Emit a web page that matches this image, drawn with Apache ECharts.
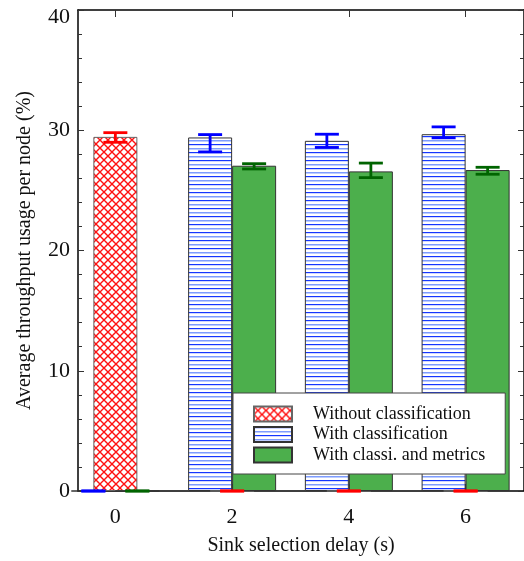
<!DOCTYPE html>
<html>
<head>
<meta charset="utf-8">
<script src="https://cdn.jsdelivr.net/npm/echarts@6/dist/echarts.min.js"></script>
<style>
html,body{margin:0;padding:0;background:#fff;}
#chart{width:524px;height:561px;}
</style>
</head>
<body>
<div id="chart"></div>
<script>
// ---- data ----
const delays = [0, 2, 4, 6];
const withoutClass = [29.45, 0, 0, 0];
const withoutLow   = [29.0, 0, 0, 0];
const withoutHigh  = [29.8, 0, 0, 0];
const withClass    = [0, 29.4, 29.12, 29.67];
const withLow      = [0, 28.2, 28.57, 29.37];
const withHigh     = [0, 29.64, 29.67, 30.28];
const withMetrics  = [0, 27.05, 26.58, 26.69];
const metricsLow   = [0, 26.78, 26.06, 26.34];
const metricsHigh  = [0, 27.22, 27.27, 26.92];
const seriesNames = ['Without classification', 'With classification', 'With classi. and metrics'];
const yTicks = [0, 10, 20, 30, 40];

// ---- patterns ----
function crossHatch() {
  const c = document.createElement('canvas');
  c.width = 8; c.height = 8;
  const g = c.getContext('2d');
  g.fillStyle = '#fff'; g.fillRect(0, 0, 8, 8);
  g.strokeStyle = '#ff1010'; g.lineWidth = 1.4;
  g.beginPath();
  g.moveTo(-1, -1); g.lineTo(9, 9);
  g.moveTo(9, -1); g.lineTo(-1, 9);
  g.stroke();
  return c;
}
function hStripes() {
  const c = document.createElement('canvas');
  c.width = 8; c.height = 8;
  const g = c.getContext('2d');
  g.fillStyle = '#fff'; g.fillRect(0, 0, 8, 8);
  g.fillStyle = '#1436ff'; g.fillRect(0, 0, 8, 1.2);
  g.fillStyle = '#7d9cff'; g.fillRect(0, 4, 8, 1.5);
  return c;
}

const FONT = 'Liberation Serif';
const chart = echarts.init(document.getElementById('chart'), null, {renderer: 'canvas'});

const pairs = (vals) => delays.map((d, i) => [d, vals[i]]);
const errData = (lo, hi) => delays.map((d, i) => [d, lo[i], hi[i]]);

function errRender(offset, color) {
  return function (params, api) {
    const x = api.value(0);
    const pLo = api.coord([x, api.value(1)]);
    const pHi = api.coord([x, api.value(2)]);
    const cx = pLo[0] + offset;
    const half = 12;
    const st = {stroke: color, lineWidth: 2.8};
    return {
      type: 'group',
      children: [
        {type: 'line', shape: {x1: cx, y1: pLo[1], x2: cx, y2: pHi[1]}, style: st},
        {type: 'line', shape: {x1: cx - half, y1: pLo[1], x2: cx + half, y2: pLo[1]}, style: st},
        {type: 'line', shape: {x1: cx - half, y1: pHi[1], x2: cx + half, y2: pHi[1]}, style: st}
      ]
    };
  };
}

const barCommon = {
  type: 'bar',
  barWidth: 44,
  barMinWidth: 44,
  barGap: '-50%',
  xAxisIndex: 0,
  yAxisIndex: 0,
  animation: false
};

const option = {
  backgroundColor: '#fff',
  animation: false,
  textStyle: {fontFamily: FONT},
  grid: {left: 78, top: 10, right: -1, bottom: 67, containLabel: false},
  legend: {
    data: [seriesNames[0], seriesNames[1], seriesNames[2]],
    orient: 'vertical',
    left: 233,
    top: 393,
    z: 100,
    zlevel: 1,
    icon: 'rect',
    padding: [12, 20, 10, 20],
    itemWidth: 38,
    itemHeight: 15,
    itemGap: 2.5,
    backgroundColor: '#fff',
    borderColor: '#444',
    borderWidth: 1,
    borderRadius: 0,
    textStyle: {fontFamily: FONT, fontSize: 18, lineHeight: 15, color: '#111', padding: [0, 0, 0, 16]},
    selectedMode: false
  },
  xAxis: [
    {
      type: 'value', min: -0.64, max: 7,
      position: 'bottom',
      name: 'Sink selection delay (s)',
      nameLocation: 'middle',
      nameGap: 45,
      nameTextStyle: {fontFamily: FONT, fontSize: 20, color: '#111'},
      axisLine: {show: true, onZero: false, lineStyle: {color: '#000', width: 1.5}},
      axisTick: {show: true, inside: true, length: 7, customValues: delays, lineStyle: {color: '#333'}},
      axisLabel: {show: true, customValues: delays, margin: 15, fontFamily: FONT, fontSize: 22, color: '#111'},
      splitLine: {show: false}
    },
    {
      type: 'value', min: -0.64, max: 7,
      position: 'top',
      axisLine: {show: true, onZero: false, lineStyle: {color: '#000', width: 1.5}},
      axisTick: {show: true, inside: true, length: 7, customValues: delays, lineStyle: {color: '#333'}},
      axisLabel: {show: false},
      splitLine: {show: false}
    }
  ],
  yAxis: [
    {
      type: 'value', min: 0, max: 40, interval: 10,
      position: 'left',
      name: 'Average throughput usage per node (%)',
      nameLocation: 'middle',
      nameGap: 43,
      nameTextStyle: {fontFamily: FONT, fontSize: 20, color: '#111'},
      axisLine: {show: true, onZero: false, lineStyle: {color: '#000', width: 1.5}},
      axisTick: {show: true, inside: true, length: 6, lineStyle: {color: '#333'}},
      minorTick: {show: true, splitNumber: 5, length: 4, lineStyle: {color: '#333'}},
      axisLabel: {
        show: true, margin: 8, fontFamily: FONT, fontSize: 22, color: '#111',
        customValues: yTicks,
        formatter: function (v) { return v === 40 ? '{t|' + v + '}' : String(v); },
        rich: {t: {fontFamily: FONT, fontSize: 22, color: '#111', padding: [14, 0, 0, 0]}}
      },
      splitLine: {show: false}
    },
    {
      type: 'value', min: 0, max: 40, interval: 10,
      position: 'right',
      axisLine: {show: true, onZero: false, lineStyle: {color: '#000', width: 1.5}},
      axisTick: {show: true, inside: true, length: 6, lineStyle: {color: '#333'}},
      minorTick: {show: true, splitNumber: 5, length: 4, lineStyle: {color: '#333'}},
      axisLabel: {show: false},
      splitLine: {show: false}
    }
  ],
  series: [
    Object.assign({}, barCommon, {
      name: seriesNames[1],
      data: pairs(withClass),
      z: 2,
      itemStyle: {color: {image: hStripes(), repeat: 'repeat'}, borderColor: '#333', borderWidth: 1}
    }),
    Object.assign({}, barCommon, {
      name: seriesNames[0],
      data: pairs(withoutClass),
      z: 3,
      itemStyle: {color: {image: crossHatch(), repeat: 'repeat'}, borderColor: '#666', borderWidth: 1}
    }),
    Object.assign({}, barCommon, {
      name: seriesNames[2],
      data: pairs(withMetrics),
      z: 4,
      itemStyle: {color: '#4caf4c', borderColor: '#333', borderWidth: 1}
    }),
    {
      type: 'custom', name: 'errWith', z: 10, clip: false,
      data: errData(withLow, withHigh),
      encode: {x: 0, y: [1, 2]},
      renderItem: errRender(-22, '#0000ff')
    },
    {
      type: 'custom', name: 'errWithout', z: 11, clip: false,
      data: errData(withoutLow, withoutHigh),
      encode: {x: 0, y: [1, 2]},
      renderItem: errRender(0, '#ff0000')
    },
    {
      type: 'custom', name: 'errMetrics', z: 12, clip: false,
      data: errData(metricsLow, metricsHigh),
      encode: {x: 0, y: [1, 2]},
      renderItem: errRender(22, '#006400')
    }
  ]
};
chart.setOption(option);
</script>
</body>
</html>
